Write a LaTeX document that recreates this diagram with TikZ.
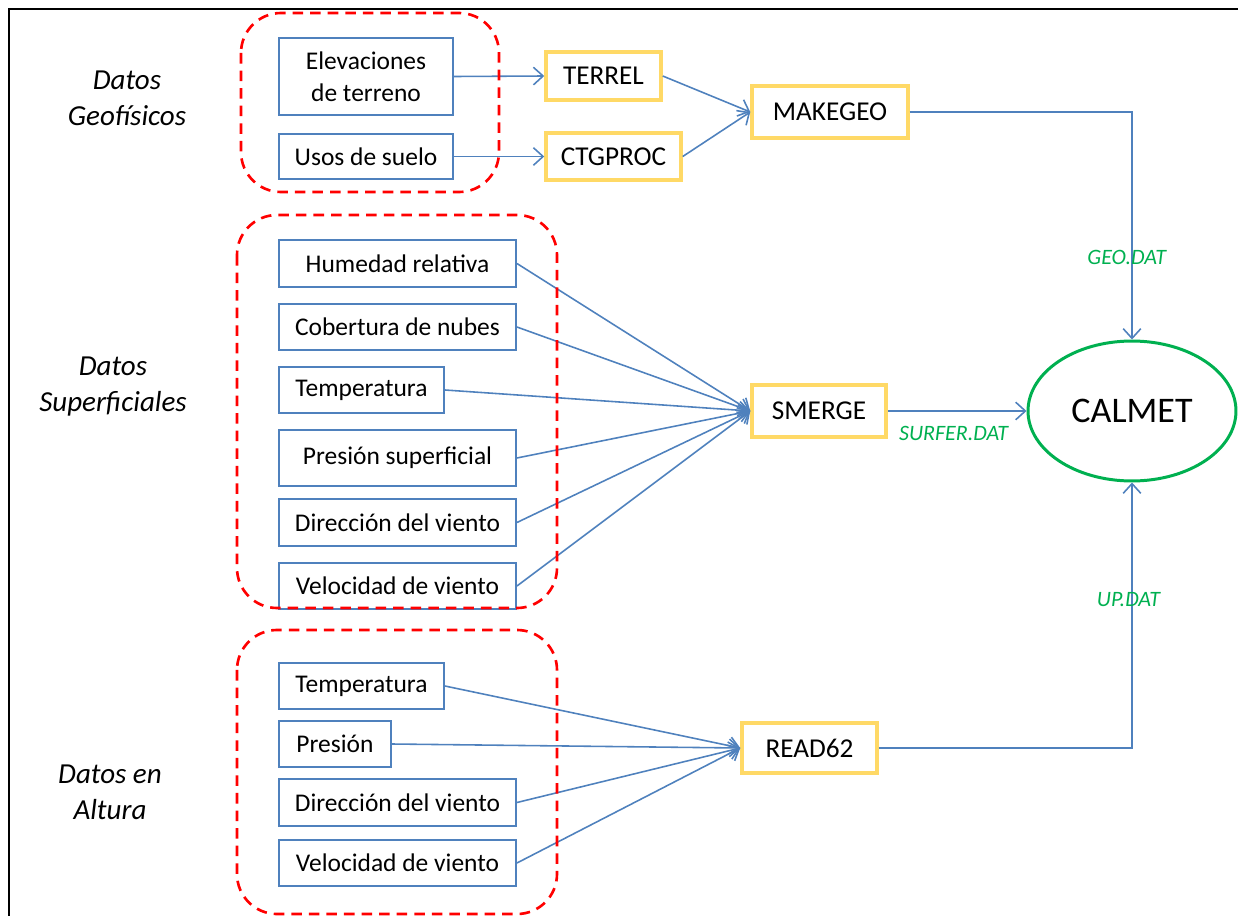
\documentclass[tikz,border=0pt]{standalone}
\usepackage{fontspec}
\setmainfont{Carlito}
\usetikzlibrary{arrows.meta,shapes.geometric}
\definecolor{azul}{RGB}{79,129,189}
\definecolor{amarillo}{RGB}{255,217,102}
\definecolor{verde}{RGB}{0,176,80}
\definecolor{rojo}{RGB}{255,0,0}
\begin{document}
\begin{tikzpicture}[x=0.02cm,y=-0.02cm,
  caja/.style={draw=azul,line width=1.1pt,minimum height=0.92cm,align=center,font=\fontsize{14.5}{18}\selectfont},
  prog/.style={draw=amarillo,line width=2pt,minimum height=1cm,font=\fontsize{15.5}{18}\selectfont},
  grupo/.style={draw=rojo,line width=1.5pt,dash pattern=on 6pt off 4pt,rounded corners=0.8cm},
  rot/.style={align=center,font=\fontsize{16.5}{20.5}\selectfont\itshape},
  arch/.style={text=verde,font=\fontsize{12.5}{14}\selectfont\itshape},
  flecha/.style={draw=azul,line width=0.9pt,-{Straight Barb[length=5.5pt,width=10pt]}}]
  \useasboundingbox (0,0) rectangle (1238,916);
  \draw [line width=1.2pt] (9,916) -- (9,9) -- (1238,9);
  % rotulos
  \node [rot] (lgeo) at (127,98) {Datos\\Geofísicos};
  \node [rot] (lsup) at (113,387) {Datos\\Superficiales};
  \node [rot] (lalt) at (110,792) {Datos en\\Altura};
  % datos geofisicos
  \node [caja,minimum width=3.48cm,minimum height=1.54cm] (elev) at (366,76.5) {Elevaciones\\de terreno};
  \node [caja,minimum width=3.48cm,minimum height=0.9cm] (usos) at (366,156.5) {Usos de suelo};
  % datos superficiales
  \node [caja,minimum width=4.74cm,minimum height=0.94cm] (hum) at (397.5,263.5) {Humedad relativa};
  \node [caja,minimum width=4.74cm] (cob) at (397.5,327) {Cobertura de nubes};
  \node [caja,minimum width=3.3cm] (tem) at (361.5,390) {Temperatura};
  \node [caja,minimum width=4.74cm,minimum height=1.12cm] (pre) at (397.5,458) {Presión superficial};
  \node [caja,minimum width=4.74cm,minimum height=0.94cm] (dir) at (397.5,522.5) {Dirección del viento};
  \node [caja,minimum width=4.74cm] (vel) at (397.5,586) {Velocidad de viento};
  % datos en altura
  \node [caja,minimum width=3.3cm] (temA) at (361.5,686) {Temperatura};
  \node [caja,minimum width=2.24cm] (preA) at (335,744) {Presión};
  \node [caja,minimum width=4.74cm,minimum height=0.94cm] (dirA) at (397.5,802.5) {Dirección del viento};
  \node [caja,minimum width=4.74cm] (velA) at (397.5,863) {Velocidad de viento};
  % programas
  \node [prog,minimum width=2.3cm,minimum height=0.96cm] (terrel) at (603.5,76) {TERREL};
  \node [prog,minimum width=2.7cm,minimum height=0.94cm] (ctg) at (613.5,156.5) {CTGPROC};
  \node [prog,minimum width=3.12cm,minimum height=1.04cm] (makegeo) at (830,112) {MAKEGEO};
  \node [prog,minimum width=2.68cm,minimum height=1.04cm] (smerge) at (819,411) {SMERGE};
  \node [prog,minimum width=2.7cm] (read) at (809.5,748) {READ62};
  \node [ellipse,draw=verde,line width=1.7pt,minimum width=4.16cm,minimum height=2.8cm,font=\fontsize{20.5}{24}\selectfont] (calmet) at (1132,411) {CALMET};
  % flechas
  \draw [flecha] (elev.east) -- (terrel.west);
  \draw [flecha] (usos.east) -- (ctg.west);
  \draw [flecha] (terrel.east) -- (makegeo.west);
  \draw [flecha] (ctg.east) -- (makegeo.west);
  \foreach \n in {hum,cob,tem,pre,dir,vel}
    \draw [flecha] (\n.east) -- (smerge.west);
  \foreach \n in {temA,preA,dirA,velA}
    \draw [flecha] (\n.east) -- (read.west);
  \draw [flecha] (makegeo.east) -| (calmet.north) node [arch,pos=0.82,xshift=-3pt] {GEO.DAT};
  \draw [flecha] (smerge.east) -- (calmet.west) node [arch,below,midway,yshift=-5pt,xshift=-2pt] {SURFER.DAT};
  \draw [flecha] (read.east) -| (calmet.south) node [arch,pos=0.78,xshift=-2pt] {UP.DAT};
  % grupos
  \draw [grupo] (241,13) rectangle (499,192);
  \draw [grupo] (237,215) rectangle (557,608);
  \draw [grupo] (237,630) rectangle (557,914);
\end{tikzpicture}
\end{document}
